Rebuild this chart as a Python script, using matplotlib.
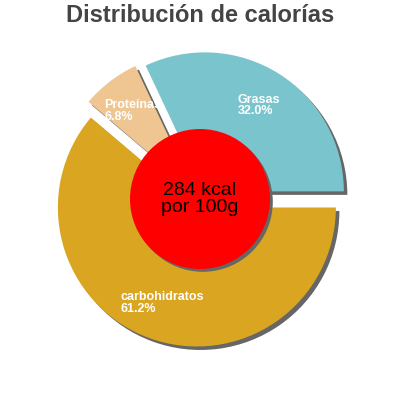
import matplotlib
matplotlib.use("Agg")
import matplotlib.pyplot as plt
import numpy as np

title = "Distribución de calorías"
categories = ["Grasas", "Proteínas", "carbohidratos"]
values = [32.0, 6.8, 61.2]
colors = ["#7ac5cd", "#efc591", "#daa520"]
center_text = "284 kcal\npor 100g"

W, H = 400, 400
R = 139.0
cx, cy = 200.0, 201.0  # from bottom
fig = plt.figure(figsize=(4, 4), dpi=100)
ax = fig.add_axes([0, 0, 1, 1])
ax.set_xlim(-cx / R, (W - cx) / R)
ax.set_ylim(-cy / R, (H - cy) / R)
ax.set_aspect("equal")
ax.axis("off")

explode = [0.065] * len(values)
sh = 3.5 / R
# shadow
ax.pie(values, explode=explode, startangle=0, counterclock=True,
       colors=["#666666"] * len(values), center=(sh, -sh), radius=1.0,
       wedgeprops=dict(linewidth=0))
wedges, _ = ax.pie(values, explode=explode, startangle=0, counterclock=True,
                   colors=colors, radius=1.0, wedgeprops=dict(linewidth=0))

ax.set_xlim(-cx / R, (W - cx) / R)
ax.set_ylim(-cy / R, (H - cy) / R)

total = sum(values)
start = 0.0
for lab, v, e in zip(categories, values, explode):
    ang = np.deg2rad(start + v / total * 360 / 2)
    d = 0.73 + e
    ax.text(d * np.cos(ang), d * np.sin(ang), f"{lab}\n{v:.1f}%",
            ha="center", va="center", multialignment="left",
            color="white", fontsize=9, fontweight="bold",
            fontfamily="Liberation Sans", linespacing=0.95, zorder=5)
    start += v / total * 360

# center circle with shadow
ax.add_patch(plt.Circle((sh * 0.8, -sh * 0.8), 70 / R, color="#666666", zorder=6, lw=0))
ax.add_patch(plt.Circle((0, 0), 70 / R, color="#ff0000", zorder=7, lw=0))
ax.text(0, 0.0, center_text, ha="center", va="center", fontsize=14,
        fontfamily="Liberation Sans", color="black", zorder=8, linespacing=1.0)

fig.text(0.5, 1 - 16 / H, title, ha="center", va="center", fontsize=17,
         fontweight="bold", fontfamily="Liberation Sans", color="#444444")

fig.savefig("out.png", dpi=100)
